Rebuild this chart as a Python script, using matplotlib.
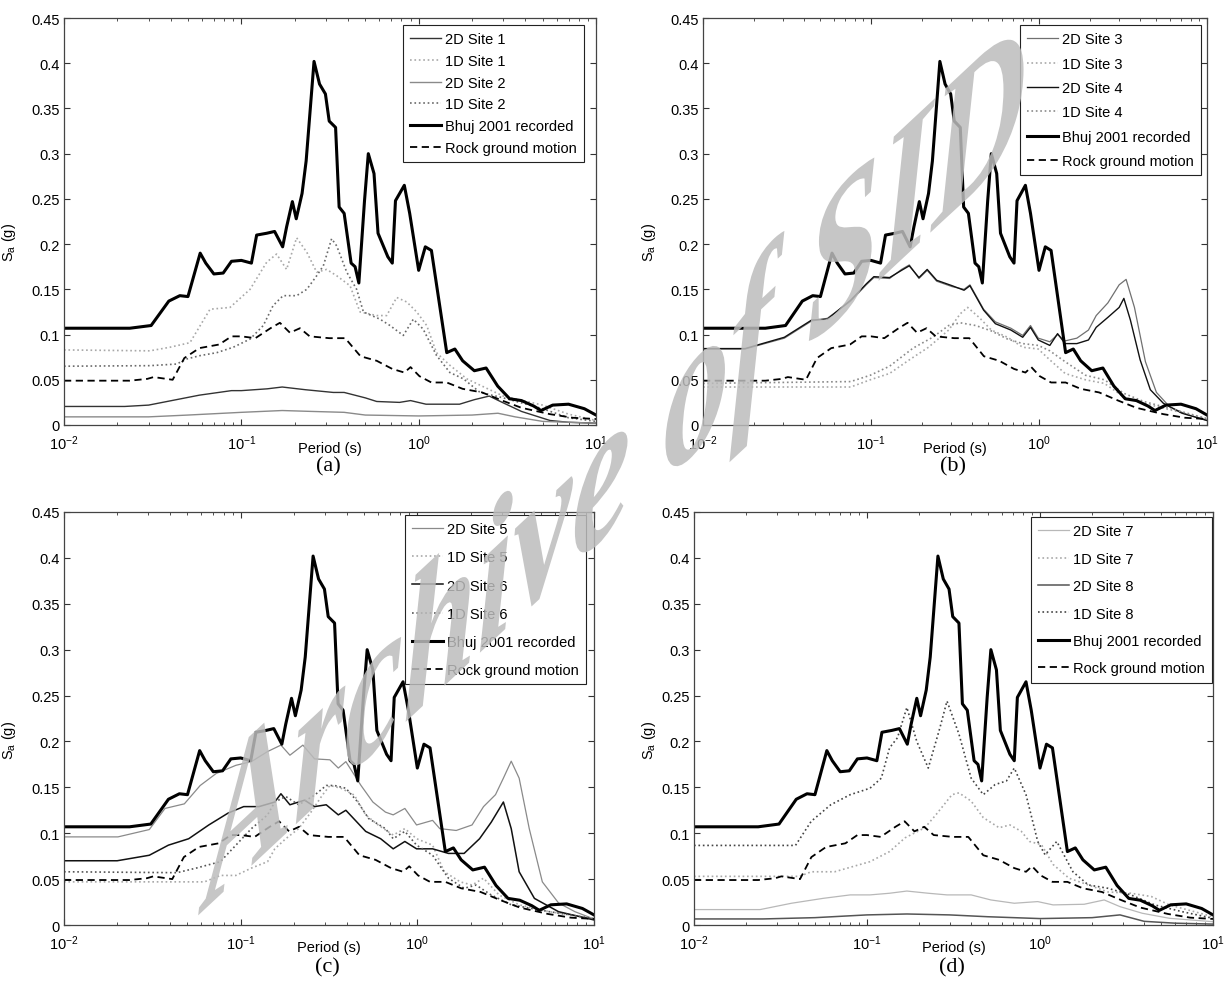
import numpy as np
import matplotlib
matplotlib.use("Agg")
import matplotlib.pyplot as plt
import matplotlib.ticker as mticker
from matplotlib.patheffects import AbstractPathEffect
from matplotlib.transforms import Affine2D

plt.rcParams.update({
    "font.family": ["Liberation Sans", "DejaVu Sans"],
    "font.size": 10,
    "mathtext.fontset": "custom",
    "mathtext.rm": "Liberation Sans",
    "mathtext.it": "Liberation Sans:italic",
    "mathtext.bf": "Liberation Sans:bold",
})

# ---- recorded / rock motion (same in all panels) ----
bhuj_T = [0.01, 0.0235, 0.031, 0.039, 0.045, 0.05, 0.0586, 0.063, 0.07, 0.079, 0.088, 0.1, 0.114, 0.122,
          0.139, 0.154, 0.171, 0.18, 0.194, 0.204, 0.22, 0.232, 0.257, 0.276, 0.298, 0.313, 0.34, 0.356,
          0.38, 0.416, 0.438, 0.46, 0.495, 0.52, 0.56, 0.59, 0.67, 0.71, 0.74, 0.83, 0.89, 1.0, 1.09, 1.18,
          1.30, 1.44, 1.60, 1.77, 2.06, 2.40, 2.79, 3.26, 3.80, 4.45, 4.9, 5.7, 7.0, 8.6, 10.0]
bhuj_Sa = [0.107, 0.107, 0.110, 0.137, 0.143, 0.142, 0.190, 0.179, 0.167, 0.168, 0.181, 0.182, 0.179, 0.210,
           0.212, 0.214, 0.197, 0.219, 0.247, 0.228, 0.256, 0.292, 0.402, 0.377, 0.366, 0.336, 0.329, 0.241,
           0.234, 0.179, 0.175, 0.157, 0.248, 0.300, 0.278, 0.212, 0.186, 0.179, 0.248, 0.265, 0.234, 0.171,
           0.197, 0.193, 0.138, 0.080, 0.084, 0.071, 0.060, 0.063, 0.043, 0.029, 0.027, 0.021, 0.016, 0.022,
           0.023, 0.018, 0.011]

rock_T = [0.01, 0.0235, 0.0295, 0.032, 0.041, 0.0477, 0.058, 0.075, 0.088, 0.1, 0.12, 0.146, 0.165, 0.188,
          0.214, 0.243, 0.313, 0.385, 0.47, 0.58, 0.71, 0.83, 0.9, 1.01, 1.18, 1.44, 1.77, 2.28, 2.96, 3.8,
          5.5, 7.4, 10.0]
rock_Sa = [0.049, 0.049, 0.051, 0.053, 0.050, 0.074, 0.085, 0.089, 0.098, 0.098, 0.096, 0.107, 0.113, 0.102,
           0.107, 0.098, 0.096, 0.096, 0.076, 0.071, 0.062, 0.058, 0.064, 0.054, 0.047, 0.047, 0.040, 0.036,
           0.027, 0.019, 0.012, 0.008, 0.0066]

# ---- panel (a) ----
s2d1_T = [0.01, 0.022, 0.030, 0.043, 0.058, 0.088, 0.1, 0.14, 0.17, 0.23, 0.33, 0.38, 0.5, 0.58, 0.78, 0.9,
          1.1, 1.7, 2.06, 2.5, 2.96, 3.8, 5.5, 7.0, 10.0]
s2d1_Sa = [0.0205, 0.0205, 0.022, 0.028, 0.033, 0.038, 0.038, 0.040, 0.042, 0.039, 0.036, 0.036, 0.030, 0.026,
           0.025, 0.027, 0.023, 0.023, 0.028, 0.032, 0.025, 0.015, 0.005, 0.003, 0.002]
s1d1_T = [0.01, 0.0305, 0.0396, 0.0513, 0.0666, 0.0863, 0.112, 0.139, 0.158, 0.180, 0.205, 0.234, 0.266, 0.303,
          0.345, 0.410, 0.467, 0.580, 0.660, 0.752, 0.857, 0.975, 1.11, 1.26, 1.50, 1.87, 2.22, 3.0, 5.0, 7.0, 10.0]
s1d1_Sa = [0.083, 0.082, 0.086, 0.091, 0.128, 0.130, 0.150, 0.180, 0.189, 0.172, 0.207, 0.191, 0.169, 0.172,
           0.165, 0.154, 0.125, 0.121, 0.121, 0.141, 0.136, 0.125, 0.110, 0.080, 0.066, 0.051, 0.044, 0.032,
           0.022, 0.012, 0.005]
s2d2_T = [0.01, 0.03, 0.05, 0.1, 0.17, 0.25, 0.38, 0.5, 1.0, 2.0, 2.8, 3.5, 5.0, 10.0]
s2d2_Sa = [0.009, 0.009, 0.011, 0.014, 0.016, 0.015, 0.014, 0.011, 0.010, 0.011, 0.013, 0.009, 0.004, 0.002]
s1d2_T = [0.01, 0.0305, 0.0432, 0.0492, 0.0585, 0.0727, 0.0901, 0.112, 0.133, 0.151, 0.172, 0.205, 0.234, 0.266,
          0.290, 0.323, 0.345, 0.393, 0.447, 0.488, 0.605, 0.689, 0.819, 0.933, 1.06, 1.26, 1.50, 1.79, 2.22,
          3.0, 5.0, 7.0, 10.0]
s1d2_Sa = [0.065, 0.0656, 0.0674, 0.073, 0.0767, 0.080, 0.086, 0.095, 0.110, 0.132, 0.143, 0.143, 0.150, 0.165,
           0.176, 0.206, 0.198, 0.169, 0.150, 0.125, 0.117, 0.110, 0.099, 0.117, 0.106, 0.077, 0.058, 0.051,
           0.036, 0.030, 0.018, 0.008, 0.004]

# ---- panel (b) ----
s2d3_T = [0.01, 0.0178, 0.0305, 0.0443, 0.055, 0.0757, 0.0937, 0.104, 0.129, 0.152, 0.169, 0.193, 0.216, 0.246,
          0.304, 0.358, 0.388, 0.468, 0.55, 0.68, 0.80, 0.89, 0.99, 1.16, 1.29, 1.43, 1.68, 1.97, 2.19, 2.57,
          3.0, 3.3, 3.7, 4.3, 5.0, 6.0, 7.5, 10.0]
s2d3_Sa = [0.084, 0.084, 0.096, 0.115, 0.118, 0.137, 0.155, 0.163, 0.162, 0.172, 0.177, 0.162, 0.171, 0.159,
           0.153, 0.150, 0.155, 0.128, 0.114, 0.107, 0.099, 0.110, 0.096, 0.092, 0.100, 0.093, 0.096, 0.105,
           0.121, 0.135, 0.155, 0.161, 0.130, 0.070, 0.036, 0.020, 0.012, 0.005]
s1d3_T = [0.01, 0.0757, 0.099, 0.129, 0.169, 0.22, 0.29, 0.34, 0.376, 0.44, 0.52, 0.65, 0.80, 0.99, 1.16, 1.43,
          1.89, 2.45, 3.2, 4.2, 6.1, 10.0]
s1d3_Sa = [0.042, 0.042, 0.050, 0.057, 0.072, 0.086, 0.105, 0.123, 0.130, 0.119, 0.105, 0.097, 0.086, 0.084,
           0.072, 0.057, 0.050, 0.046, 0.031, 0.024, 0.0165, 0.007]
s2d4_T = [0.01, 0.0178, 0.0305, 0.0443, 0.055, 0.0757, 0.0937, 0.104, 0.129, 0.152, 0.169, 0.193, 0.216, 0.246,
          0.304, 0.358, 0.388, 0.468, 0.55, 0.68, 0.80, 0.89, 0.99, 1.16, 1.29, 1.43, 1.68, 1.97, 2.19, 2.57,
          3.0, 3.2, 3.5, 4.0, 4.6, 5.5, 7.1, 10.0]
s2d4_Sa = [0.0845, 0.0845, 0.097, 0.116, 0.117, 0.138, 0.156, 0.164, 0.163, 0.171, 0.176, 0.163, 0.172, 0.160,
           0.154, 0.149, 0.154, 0.127, 0.112, 0.105, 0.097, 0.108, 0.094, 0.088, 0.101, 0.090, 0.090, 0.094,
           0.108, 0.119, 0.130, 0.140, 0.116, 0.072, 0.039, 0.024, 0.013, 0.005]
s1d4_T = [0.01, 0.0757, 0.099, 0.129, 0.178, 0.233, 0.29, 0.34, 0.42, 0.52, 0.65, 0.80, 0.99, 1.16, 1.43, 1.89,
          2.45, 3.2, 4.2, 6.1, 10.0]
s1d4_Sa = [0.046, 0.048, 0.055, 0.065, 0.085, 0.097, 0.110, 0.113, 0.110, 0.104, 0.095, 0.090, 0.088, 0.082,
           0.070, 0.055, 0.050, 0.035, 0.026, 0.018, 0.007]

# ---- panel (c) ----
s2d5_T = [0.01, 0.0202, 0.0304, 0.0373, 0.048, 0.059, 0.0726, 0.094, 0.115, 0.142, 0.169, 0.19, 0.225, 0.262,
          0.32, 0.357, 0.394, 0.48, 0.56, 0.66, 0.73, 0.85, 0.99, 1.22, 1.34, 1.66, 2.04, 2.37, 2.77, 3.07, 3.4,
          3.77, 4.3, 5.1, 6.3, 7.8, 10.0]
s2d5_Sa = [0.096, 0.096, 0.104, 0.127, 0.132, 0.152, 0.165, 0.174, 0.178, 0.189, 0.196, 0.185, 0.196, 0.181,
           0.180, 0.171, 0.178, 0.152, 0.134, 0.123, 0.120, 0.127, 0.109, 0.114, 0.105, 0.103, 0.109, 0.129,
           0.142, 0.160, 0.1785, 0.160, 0.105, 0.047, 0.024, 0.0145, 0.0065]
s1d5_T = [0.01, 0.0624, 0.0767, 0.094, 0.115, 0.142, 0.156, 0.18, 0.213, 0.25, 0.29, 0.32, 0.37, 0.44, 0.51,
          0.6, 0.73, 0.85, 0.99, 1.22, 1.42, 1.75, 2.04, 2.37, 2.9, 3.77, 5.6, 10.0]
s1d5_Sa = [0.047, 0.047, 0.054, 0.054, 0.062, 0.069, 0.083, 0.094, 0.105, 0.123, 0.1415, 0.152, 0.149, 0.1415,
           0.120, 0.109, 0.098, 0.105, 0.094, 0.087, 0.058, 0.047, 0.0435, 0.051, 0.0327, 0.022, 0.0145, 0.007]
s2d6_T = [0.01, 0.02, 0.0304, 0.039, 0.0508, 0.066, 0.085, 0.104, 0.127, 0.156, 0.169, 0.19, 0.23, 0.262, 0.305,
          0.357, 0.394, 0.51, 0.62, 0.73, 0.85, 0.99, 1.22, 1.5, 1.84, 2.25, 2.62, 3.07, 3.4, 3.77, 4.6, 6.3, 10.0]
s2d6_Sa = [0.070, 0.070, 0.076, 0.087, 0.094, 0.109, 0.122, 0.129, 0.129, 0.134, 0.143, 0.131, 0.136, 0.129,
           0.131, 0.120, 0.125, 0.102, 0.094, 0.083, 0.091, 0.083, 0.083, 0.078, 0.078, 0.094, 0.112, 0.134,
           0.105, 0.058, 0.029, 0.0145, 0.0055]
s1d6_T = [0.01, 0.0436, 0.056, 0.0767, 0.094, 0.115, 0.142, 0.156, 0.18, 0.213, 0.262, 0.305, 0.34, 0.394, 0.46,
          0.53, 0.66, 0.73, 0.85, 0.99, 1.22, 1.5, 1.84, 2.15, 2.62, 3.4, 5.6, 10.0]
s1d6_Sa = [0.058, 0.057, 0.062, 0.069, 0.087, 0.105, 0.120, 0.134, 0.140, 0.131, 0.1415, 0.152, 0.152, 0.149,
           0.134, 0.116, 0.105, 0.094, 0.102, 0.087, 0.076, 0.051, 0.040, 0.0435, 0.0327, 0.022, 0.0145, 0.007]

# ---- panel (d) ----
s2d7_T = [0.01, 0.0241, 0.0366, 0.0556, 0.08, 0.104, 0.135, 0.17, 0.226, 0.29, 0.4, 0.52, 0.71, 0.97, 1.19, 1.8,
          2.35, 2.9, 3.9, 5.6, 10.0]
s2d7_Sa = [0.0168, 0.0168, 0.0237, 0.029, 0.0328, 0.0328, 0.0346, 0.037, 0.0346, 0.0328, 0.0328, 0.0273, 0.0237,
           0.0255, 0.0219, 0.0226, 0.0273, 0.020, 0.0128, 0.0073, 0.0036]
s1d7_T = [0.01, 0.0407, 0.0476, 0.065, 0.084, 0.104, 0.135, 0.166, 0.216, 0.25, 0.31, 0.34, 0.4, 0.47, 0.58,
          0.67, 0.78, 0.87, 1.02, 1.19, 1.47, 1.9, 2.47, 3.35, 4.4, 5.6, 10.0]
s1d7_Sa = [0.053, 0.053, 0.058, 0.058, 0.064, 0.069, 0.080, 0.095, 0.106, 0.120, 0.142, 0.144, 0.135, 0.117,
           0.106, 0.109, 0.102, 0.091, 0.0875, 0.066, 0.051, 0.0437, 0.036, 0.0346, 0.031, 0.0219, 0.009]
s2d8_T = [0.01, 0.025, 0.05, 0.1, 0.17, 0.3, 0.5, 1.0, 2.0, 2.9, 4.0, 6.0, 10.0]
s2d8_Sa = [0.0066, 0.0066, 0.008, 0.011, 0.012, 0.011, 0.009, 0.007, 0.008, 0.011, 0.004, 0.002, 0.001]
s1d8_T = [0.01, 0.0386, 0.0476, 0.0617, 0.08, 0.104, 0.121, 0.135, 0.15, 0.17, 0.194, 0.226, 0.264, 0.29, 0.34,
          0.4, 0.47, 0.55, 0.64, 0.71, 0.83, 0.97, 1.07, 1.25, 1.55, 1.9, 2.47, 3.35, 4.6, 6.6, 10.0]
s1d8_Sa = [0.0867, 0.0867, 0.113, 0.131, 0.142, 0.149, 0.160, 0.193, 0.204, 0.237, 0.200, 0.171, 0.215, 0.244,
           0.208, 0.160, 0.142, 0.153, 0.157, 0.171, 0.142, 0.091, 0.0765, 0.091, 0.058, 0.0437, 0.040, 0.0328,
           0.0219, 0.0146, 0.0073]

panel_tags = ["(a)", "(b)", "(c)", "(d)"]
site_labels = [("2D Site 1", "1D Site 1", "2D Site 2", "1D Site 2"),
               ("2D Site 3", "1D Site 3", "2D Site 4", "1D Site 4"),
               ("2D Site 5", "1D Site 5", "2D Site 6", "1D Site 6"),
               ("2D Site 7", "1D Site 7", "2D Site 8", "1D Site 8")]
site_curves = [[(s2d1_T, s2d1_Sa), (s1d1_T, s1d1_Sa), (s2d2_T, s2d2_Sa), (s1d2_T, s1d2_Sa)],
               [(s2d3_T, s2d3_Sa), (s1d3_T, s1d3_Sa), (s2d4_T, s2d4_Sa), (s1d4_T, s1d4_Sa)],
               [(s2d5_T, s2d5_Sa), (s1d5_T, s1d5_Sa), (s2d6_T, s2d6_Sa), (s1d6_T, s1d6_Sa)],
               [(s2d7_T, s2d7_Sa), (s1d7_T, s1d7_Sa), (s2d8_T, s2d8_Sa), (s1d8_T, s1d8_Sa)]]

# line styles of the four site curves in each panel: (color, linestyle, width)
site_styles = [[("#333333", "-", 1.0), ("#a8a8a8", ":", 1.2), ("#8a8a8a", "-", 1.0), ("#6a6a6a", ":", 1.2)],
               [("#707070", "-", 0.9), ("#a8a8a8", ":", 1.2), ("#111111", "-", 1.0), ("#8a8a8a", ":", 1.2)],
               [("#8a8a8a", "-", 0.9), ("#a8a8a8", ":", 1.2), ("#111111", "-", 1.1), ("#555555", ":", 1.2)],
               [("#b8b8b8", "-", 0.9), ("#a8a8a8", ":", 1.2), ("#555555", "-", 1.1), ("#444444", ":", 1.2)]]

W, H = 1229, 995
# axes boxes in pixels: left, top, right, bottom
boxes = [(64, 19, 596, 426), (703, 19, 1207, 426), (64, 513, 594, 926), (694, 513, 1213, 926)]
legend_anchor = [(584, 26), (1201, 26), (586, 516), (1212, 518)]
legend_spacing = [0.53, 0.71, 0.97, 0.92]
xlabel_gap = [23, 23, 22, 22]
caption_gap = [41, 41, 42, 42]

fig = plt.figure(figsize=(W / 100, H / 100), dpi=100)

for k in range(4):
    l, t, r, b = boxes[k]
    ax = fig.add_axes([l / W, 1 - b / H, (r - l) / W, (b - t) / H])
    hs = []
    for (T, Sa), lab, (c, ls, lw) in zip(site_curves[k], site_labels[k], site_styles[k]):
        h, = ax.plot(T, Sa, color=c, ls=ls, lw=lw, label=lab)
        hs.append(h)
    h, = ax.plot(bhuj_T, bhuj_Sa, color="black", lw=2.2, label="Bhuj 2001 recorded")
    hs.append(h)
    h, = ax.plot(rock_T, rock_Sa, color="black", ls=(0, (4, 2.5)), lw=1.3, label="Rock ground motion")
    hs.append(h)

    ax.set_xscale("log")
    ax.set_xlim(0.01, 10)
    ax.set_ylim(0, 0.45)
    ax.set_yticks(np.arange(0, 0.451, 0.05))
    ax.yaxis.set_major_formatter(mticker.FuncFormatter(lambda v, p: "%g" % round(v, 2)))
    ax.set_xticks([0.01, 0.1, 1, 10])
    ax.set_xticklabels([r"$10^{-2}$", r"$10^{-1}$", r"$10^{0}$", r"$10^{1}$"])
    ax.xaxis.set_minor_locator(mticker.LogLocator(base=10, subs=np.arange(2, 10), numticks=20))
    ax.xaxis.set_minor_formatter(mticker.NullFormatter())
    ax.tick_params(which="both", direction="in", top=True, right=True, labelsize=10.5, color="#333333")
    ax.tick_params(which="major", length=4, width=0.8, pad=3)
    ax.tick_params(which="minor", length=2.5, width=0.6)
    ax.tick_params(axis="x", pad=6)
    for sp in ax.spines.values():
        sp.set_color("#444444")
        sp.set_linewidth(0.9)

    ax_w, ax_h = r - l, b - t
    ax.set_ylabel(r"S$_\mathrm{a}$ (g)", fontsize=10.5)
    ax.yaxis.set_label_coords(-(l - 18.0 - (0 if k % 2 == 0 else 640)) / ax_w, 0.45)
    # axis title and panel tag sit in the figure just below the tick labels
    cx = (l + r) / 2
    fig.text(cx / W, 1 - (b + xlabel_gap[k]) / H, "Period (s)", ha="center", va="center", fontsize=10.5)
    fig.text((cx - 2) / W, 1 - (b + caption_gap[k]) / H, panel_tags[k], ha="center", va="center",
             fontsize=16, family="Liberation Serif")

    lx, ly = legend_anchor[k]
    leg = ax.legend(handles=hs, loc="upper right",
                    bbox_to_anchor=((lx - l) / ax_w, 1 - (ly - t) / ax_h),
                    borderaxespad=0, fontsize=10.5, fancybox=False, framealpha=1,
                    edgecolor="#222222", handlelength=2.1, handletextpad=0.3,
                    borderpad=0.5, labelspacing=legend_spacing[k])
    leg.get_frame().set_linewidth(0.8)


# watermark: the text is laid out along the diagonal, then its glyph outlines are sheared
# so that the letters stay upright while the baseline climbs
class Shear(AbstractPathEffect):
    def __init__(self, origin, rot, matrix):
        super().__init__()
        self.origin = origin
        self.rot = rot
        self.matrix = matrix

    def draw_path(self, renderer, gc, tpath, affine, rgbFace=None):
        x0, y0 = self.origin
        tr = (affine + Affine2D().translate(-x0, -y0).rotate_deg(-self.rot)
              + Affine2D(self.matrix) + Affine2D().translate(x0, y0))
        renderer.draw_path(gc, tpath, tr, rgbFace)


rot = 43
ang = np.deg2rad(rot)
up = 1.1
mat = np.array([[np.cos(ang), 0.0, 0.0], [np.sin(ang), up, 0.0], [0.0, 0.0, 1.0]])
wx, wy = 205, H - 910
fig.text(wx / W, wy / H, "Archive of SID", ha="left", va="baseline", rotation=rot,
         rotation_mode="anchor", fontsize=130, family="Liberation Serif", weight="bold",
         style="italic", color="#bcbcbc", alpha=0.85, zorder=10,
         path_effects=[Shear((wx, wy), rot, mat)])

fig.savefig("out.png", dpi=100)
